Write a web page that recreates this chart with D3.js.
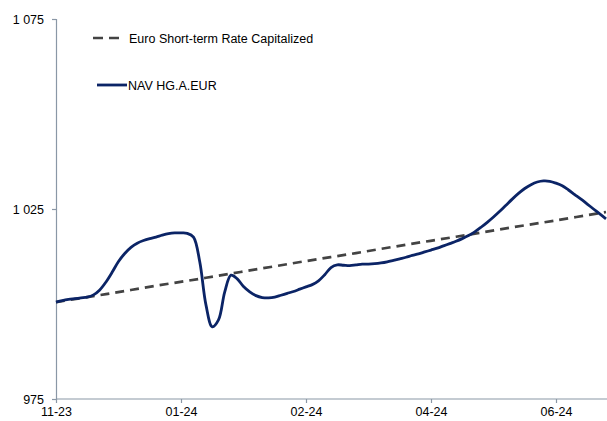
<!DOCTYPE html>
<html><head><meta charset="utf-8">
<script src="https://cdn.jsdelivr.net/npm/d3@7"></script>
<style>body{margin:0;background:#fff}svg{display:block}text{font-family:"Liberation Sans",Arial,sans-serif}</style>
</head><body><svg id="c" width="607" height="421"></svg>
<script>
const navValues = [1000.5,1000.9,1001.2,1001.4,1001.6,1001.8,1002.4,1003.7,1005.8,1008.4,
1011.2,1013.3,1014.9,1016.0,1016.7,1017.2,1017.6,1018.1,1018.5,1018.7,
1018.7,1018.6,1017.6,1011.1,999.7,994.0,995.8,1003.2,1007.6,1006.6,
1004.6,1003.2,1002.2,1001.7,1001.6,1001.8,1002.3,1002.8,1003.3,1003.9,
1004.5,1005.1,1006.1,1007.7,1009.6,1010.3,1010.2,1010.1,1010.3,1010.5,
1010.5,1010.6,1010.8,1011.1,1011.5,1011.9,1012.3,1012.8,1013.2,1013.7,
1014.2,1014.7,1015.3,1015.9,1016.5,1017.2,1018.0,1019.0,1020.2,1021.5,
1022.9,1024.4,1026.0,1027.6,1029.1,1030.4,1031.4,1032.1,1032.4,1032.3,
1031.8,1031.1,1030.0,1028.8,1027.6,1026.3,1025.0,1023.7,1022.4];
const esterIndex = [0,8,16,24,32,40,48,56,64,72,80,88];
const esterValues = [1000.5,1002.6,1004.8,1006.9,1009.1,1011.3,1013.4,1015.6,1017.7,1019.9,1022.0,1024.2];
const xTickIndex = [0,20,40,60,80];
const xTickLabels = ["11-23","01-24","02-24","04-24","06-24"];
const yTicks = [975,1025,1075];
const seriesNames = ["Euro Short-term Rate Capitalized","NAV HG.A.EUR"];

const svg = d3.select("#c");
const x = d3.scaleLinear().domain([0,88]).range([56,606]);
const y = d3.scaleLinear().domain([975,1075]).range([399,19]);
const axisColor = "#8a97a6";
const font = '"Liberation Sans",Arial,sans-serif';

const yAxis = svg.append("g").attr("transform","translate(56,0)")
  .call(d3.axisLeft(y).tickValues(yTicks).tickSize(4).tickPadding(8)
    .tickFormat(d=>d3.format(",")(d).replace(","," ")));
const xAxis = svg.append("g").attr("transform","translate(0,399)")
  .call(d3.axisBottom(x).tickValues(xTickIndex).tickSize(4).tickPadding(4.5)
    .tickFormat((d,i)=>xTickLabels[i]));
[yAxis,xAxis].forEach(a=>{
  a.select(".domain").attr("stroke",axisColor).attr("stroke-width",1.2);
  a.selectAll(".tick line").attr("stroke",axisColor).attr("stroke-width",1.2);
  a.selectAll("text").attr("fill","#000").style("font-size","12.5px").style("font-family",font);
});
xAxis.select(".domain").attr("d","M56,0H607");

const line = d3.line().curve(d3.curveCatmullRom.alpha(0.5));
svg.append("path")
  .attr("d", line(esterIndex.map((d,i)=>[x(d), y(esterValues[i])])))
  .attr("fill","none").attr("stroke","#434343").attr("stroke-width",2.7)
  .attr("stroke-dasharray","9,6");
svg.append("path")
  .attr("d", line(navValues.map((v,i)=>[x(i), y(v)])))
  .attr("fill","none").attr("stroke","#0b2466").attr("stroke-width",2.8)
  .attr("stroke-linejoin","round");

// legend
const lg = svg.append("g");
lg.append("line").attr("x1",93).attr("x2",121).attr("y1",38).attr("y2",38)
  .attr("stroke","#434343").attr("stroke-width",2.7).attr("stroke-dasharray","10,6");
lg.append("text").attr("x",129).attr("y",42.5).text(seriesNames[0]).style("font-size","12.5px");
lg.append("line").attr("x1",97).attr("x2",127).attr("y1",85).attr("y2",85)
  .attr("stroke","#0b2466").attr("stroke-width",2.8);
lg.append("text").attr("x",128).attr("y",89.5).text(seriesNames[1]).style("font-size","12.5px");
</script></body></html>
